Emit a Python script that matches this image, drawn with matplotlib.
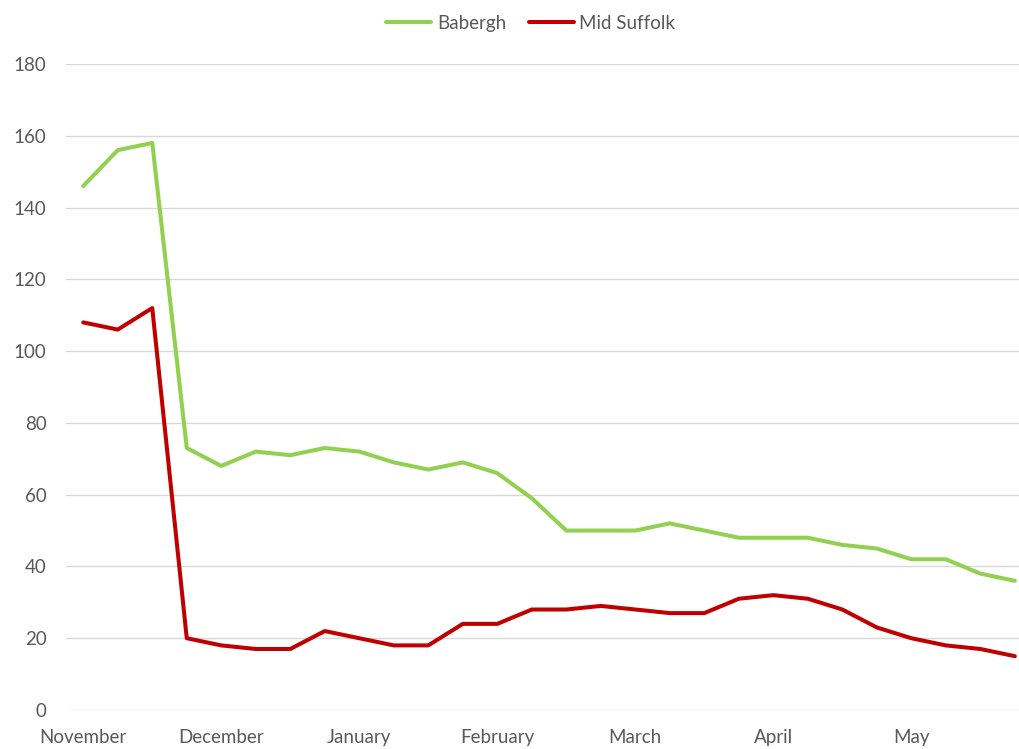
import matplotlib.pyplot as plt
import numpy as np

plt.rcParams['font.family'] = ['Lato', 'DejaVu Sans']

# weekly values, November to end of May
babergh = [146, 156, 158, 73, 68, 72, 71, 73, 72, 69, 67, 69, 66, 59,
           50, 50, 50, 52, 50, 48, 48, 48, 46, 45, 42, 42, 38, 36]
mid_suffolk = [108, 106, 112, 20, 18, 17, 17, 22, 20, 18, 18, 24, 24, 28,
               28, 29, 28, 27, 27, 31, 32, 31, 28, 23, 20, 18, 17, 15]
month_labels = ['November', 'December', 'January', 'February', 'March', 'April', 'May']
month_idx = [0, 4, 8, 12, 16, 20, 24]

x = np.arange(len(babergh))

fig = plt.figure(figsize=(10.19, 7.49), dpi=100)
ax = fig.add_axes([66 / 1019, 39 / 749, 953 / 1019, 646 / 749])

ax.plot(x, babergh, color='#92D050', lw=2.9, label='Babergh', solid_capstyle='round')
ax.plot(x, mid_suffolk, color='#C00000', lw=2.9, label='Mid Suffolk', solid_capstyle='round')

ax.set_xlim(-0.5, 27.12)
ax.set_ylim(0, 180)
ax.set_yticks(range(0, 181, 20))
ax.set_xticks(month_idx)
ax.set_xticklabels(month_labels)
ax.grid(axis='y', color='#D9D9D9', lw=1)
ax.set_axisbelow(True)
for s in ax.spines.values():
    s.set_visible(False)
ax.tick_params(axis='both', length=0, labelsize=13.5, colors='#595959')
ax.tick_params(axis='y', pad=14)
ax.tick_params(axis='x', pad=14)

fig.legend(loc='upper center', bbox_to_anchor=(0.521, 1.003), ncol=2, frameon=False,
           fontsize=13.5, labelcolor='#595959', handlelength=2.4, columnspacing=1.2,
           handletextpad=0.3)

fig.savefig('out.png', dpi=100)
plt.close()
